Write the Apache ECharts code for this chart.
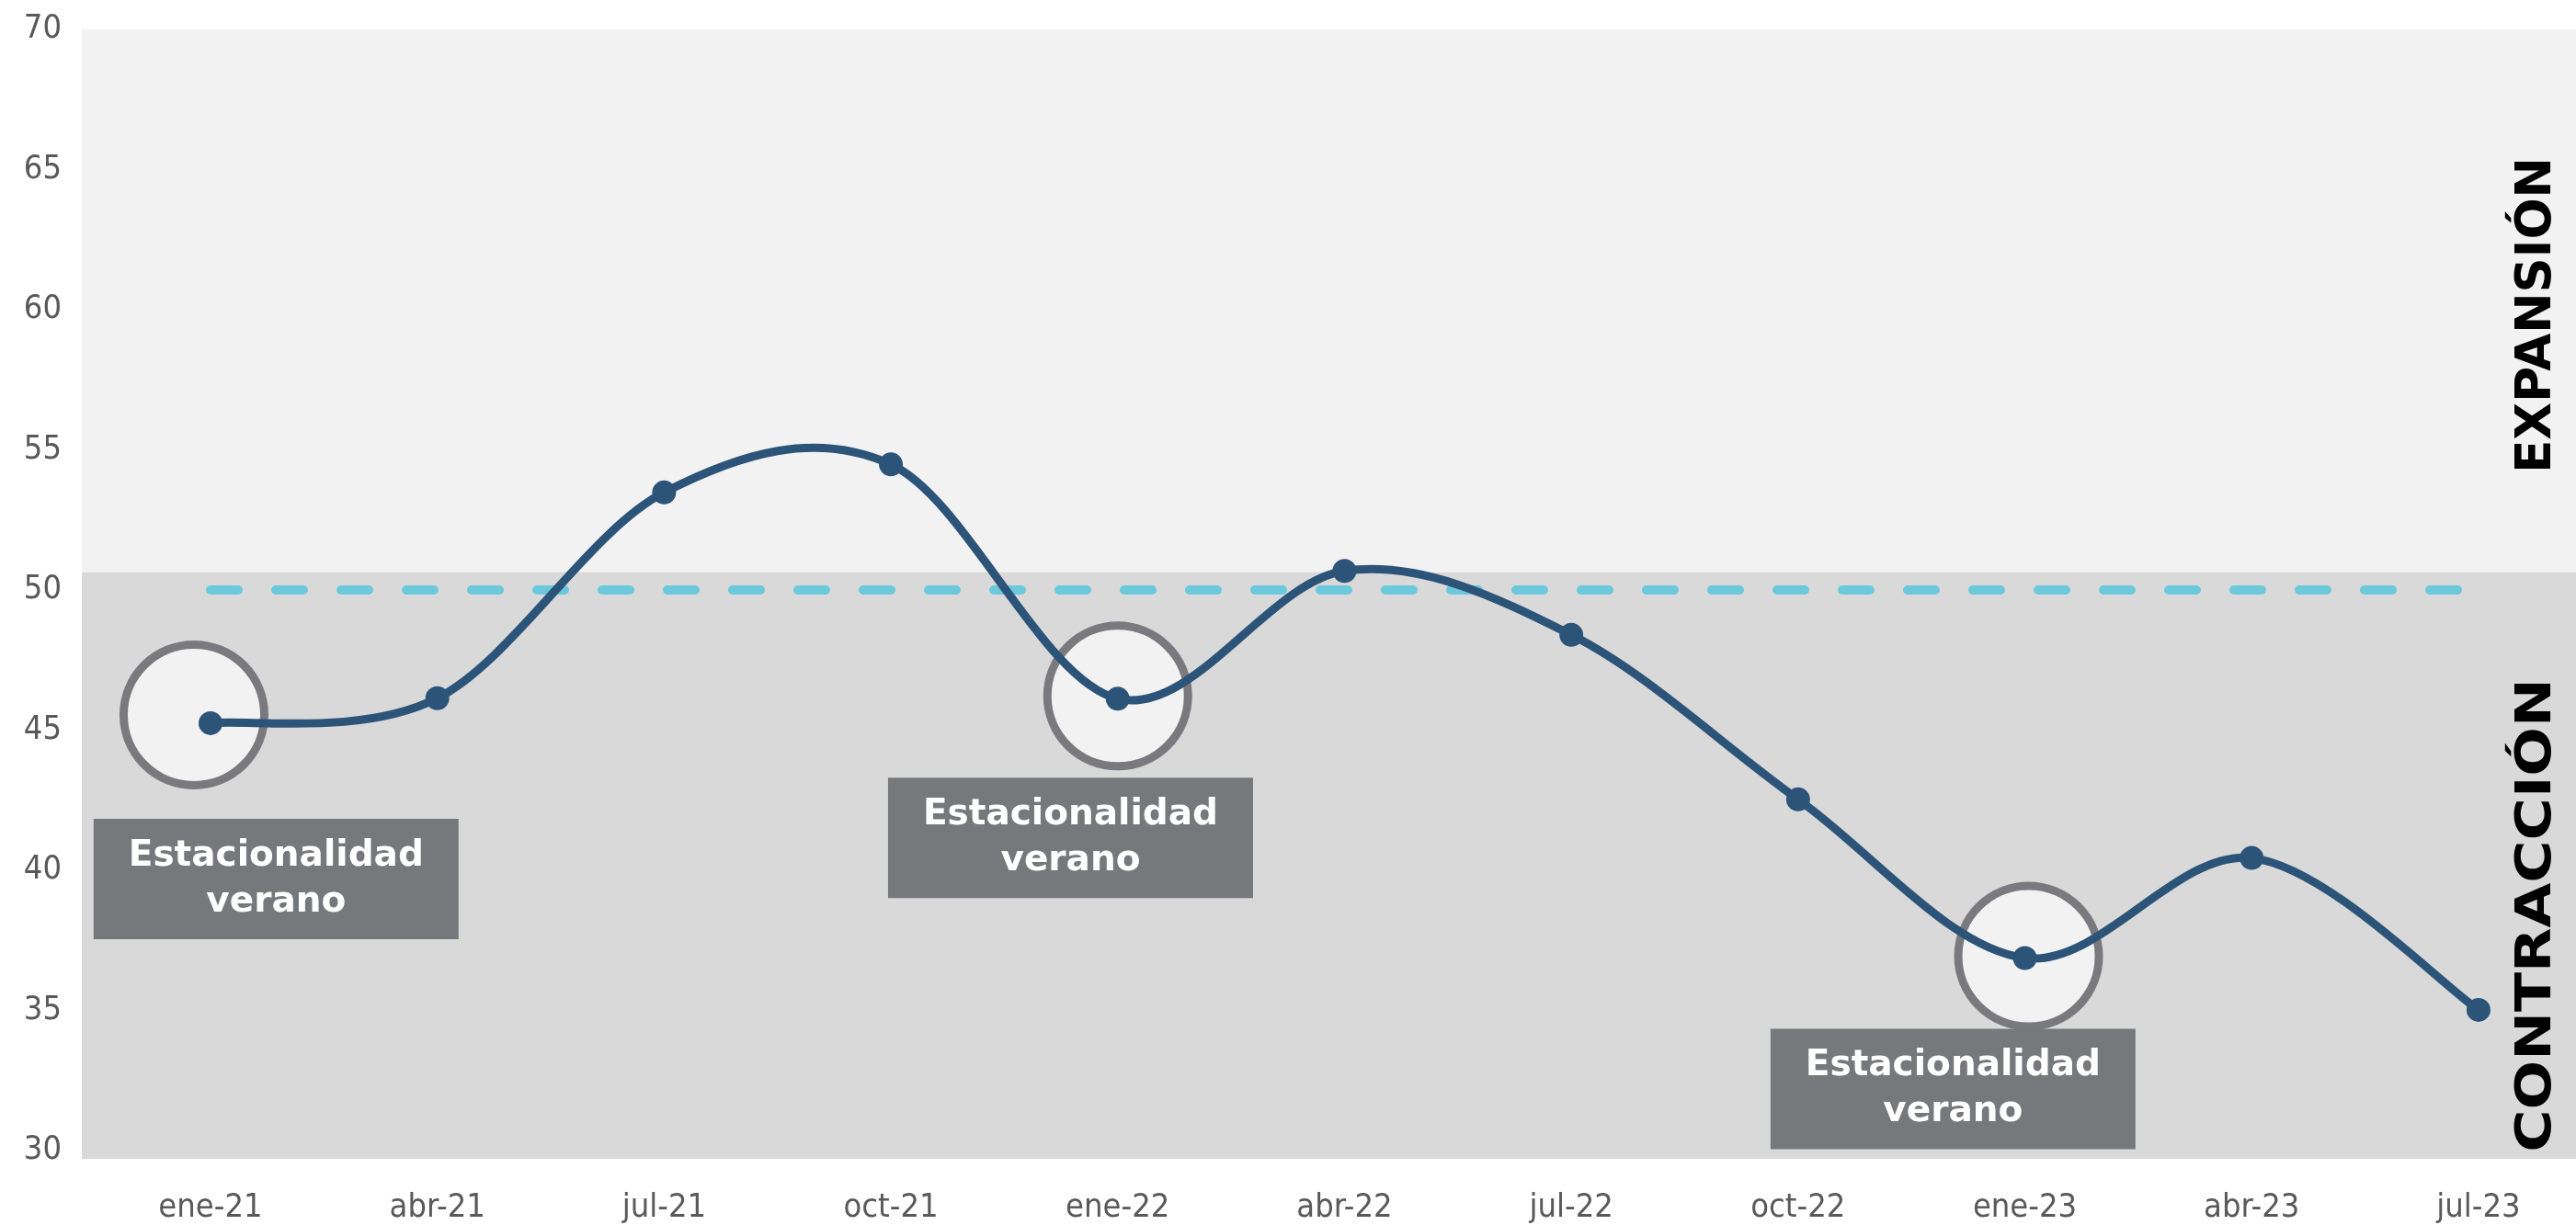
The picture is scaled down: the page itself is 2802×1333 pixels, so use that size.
<!DOCTYPE html>
<html>
<head>
<meta charset="utf-8">
<script src="https://cdn.jsdelivr.net/npm/echarts@6/dist/echarts.min.js"></script>
<style>
html,body{margin:0;padding:0;background:#fff;}
#chart{width:2802px;height:1333px;}
</style>
</head>
<body>
<div id="chart"></div>
<script>
// ---- data ----
const categories = ['ene-21','abr-21','jul-21','oct-21','ene-22','abr-22','jul-22','oct-22','ene-23','abr-23','jul-23'];
const values = [45.25, 46.14, 53.48, 54.48, 46.12, 50.68, 48.40, 42.53, 36.87, 40.44, 35.02];
const threshold = 50;
const expansionFrom = 50.63;
const yTicks = [30, 35, 40, 45, 50, 55, 60, 65, 70];
const highlightIdx = [0, 4, 8];
const noteText = 'Estacionalidad\nverano';
const noteX = [0.289, 3.792, 7.683];
const noteY = [39.69, 41.16, 32.20];

const chart = echarts.init(document.getElementById('chart'));
const lineData = values.map((v, i) => [i, v]);
const circleData = highlightIdx.map((i, k) => ({
  value: [i, values[i]],
  symbolOffset: k === 0 ? [-18, -9] : (k === 1 ? [0, -3] : [4, -2])
}));
const noteData = noteX.map((x, i) => [x, noteY[i]]);
const labelFont = "'Liberation Sans Narrow', 'DejaVu Sans Condensed', sans-serif";
const lineColor = '#2c5479';

// Smooth curve through the points (Catmull-Rom style Bezier), positioned with the axis scales
function renderCurve(params, api) {
  if (params.dataIndex !== 0) return null;
  const pts = values.map((v, i) => api.coord([i, v]));
  const n = pts.length;
  const t = 1 / 6;
  let d = 'M' + pts[0][0] + ' ' + pts[0][1];
  for (let i = 0; i < n - 1; i++) {
    const p0 = pts[Math.max(i - 1, 0)], p1 = pts[i], p2 = pts[i + 1], p3 = pts[Math.min(i + 2, n - 1)];
    const c1 = [p1[0] + (p2[0] - p0[0]) * t, p1[1] + (p2[1] - p0[1]) * t];
    const c2 = [p2[0] - (p3[0] - p1[0]) * t, p2[1] - (p3[1] - p1[1]) * t];
    d += ' C' + c1[0] + ' ' + c1[1] + ' ' + c2[0] + ' ' + c2[1] + ' ' + p2[0] + ' ' + p2[1];
  }
  return {
    type: 'path',
    shape: {pathData: d},
    style: {fill: null, stroke: lineColor, lineWidth: 9, lineJoin: 'round', lineCap: 'round'}
  };
}

chart.setOption({
  animation: false,
  grid: {left: 89, right: 0, top: 32, bottom: 66, show: true, backgroundColor: '#d9d9d9', borderWidth: 0},
  xAxis: {
    type: 'value', min: -0.5675, max: 10.43,
    splitLine: {show: false}, axisTick: {show: false},
    axisLine: {show: false, onZero: false},
    axisLabel: {
      customValues: categories.map((c, i) => i),
      formatter: v => categories[Math.round(v)],
      fontFamily: labelFont, fontSize: 36, color: '#595959', margin: 36
    }
  },
  yAxis: {
    type: 'value', min: 29.706, max: 70,
    splitLine: {show: false}, axisTick: {show: false},
    axisLine: {show: false, onZero: false},
    axisLabel: {customValues: yTicks, fontFamily: labelFont, fontSize: 36, color: '#595959', margin: 22}
  },
  series: [
    {
      type: 'line', data: [[0, threshold], [10, threshold]], symbol: 'none', z: 1,
      lineStyle: {color: '#6cc9dc', width: 10, type: [30, 41], cap: 'round'},
      markArea: {silent: true, itemStyle: {color: '#f2f2f2'}, data: [[{yAxis: expansionFrom}, {yAxis: 70}]]}
    },
    {
      type: 'scatter', data: circleData, symbol: 'circle', symbolSize: 153, z: 2,
      itemStyle: {color: '#f2f2f2', borderColor: '#7a7a7e', borderWidth: 9, opacity: 1}
    },
    {
      type: 'custom', data: lineData, renderItem: renderCurve, z: 3,
      encode: {x: 0, y: 1}
    },
    {
      type: 'scatter', data: lineData, symbol: 'circle', symbolSize: 26, z: 4,
      itemStyle: {color: lineColor, opacity: 1}
    },
    {
      type: 'scatter', data: noteData, symbol: 'rect', symbolSize: [397, 131], z: 5,
      itemStyle: {color: '#77787b', opacity: 1},
      label: {show: true, position: 'inside', formatter: noteText, color: '#ffffff', opacity: 1,
        fontFamily: 'DejaVu Sans', fontWeight: 'bold', fontSize: 39, lineHeight: 50}
    }
  ],
  graphic: [
    {type: 'text', x: 2760, y: 343, rotation: Math.PI / 2, z: 10,
      style: {text: 'EXPANSIÓN', fill: '#000', fontFamily: 'DejaVu Sans', fontWeight: 'bold', fontSize: 53, align: 'center', verticalAlign: 'middle'}},
    {type: 'text', x: 2760, y: 996, rotation: Math.PI / 2, scaleX: 1.19, z: 10,
      style: {text: 'CONTRACCIÓN', fill: '#000', fontFamily: 'DejaVu Sans', fontWeight: 'bold', fontSize: 53, align: 'center', verticalAlign: 'middle'}}
  ]
});
</script>
</body>
</html>
